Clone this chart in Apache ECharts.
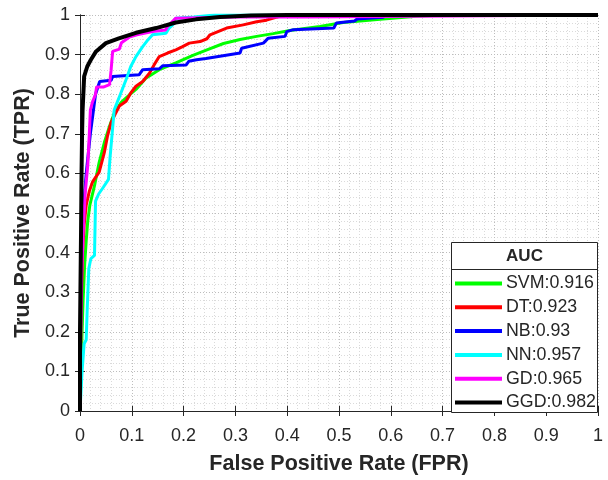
<!DOCTYPE html>
<html>
<head>
<meta charset="utf-8">
<script src="https://cdn.jsdelivr.net/npm/echarts@6/dist/echarts.min.js"></script>
<style>
  html, body { margin: 0; padding: 0; background: #fff; }
  #chart { width: 608px; height: 480px; }
</style>
</head>
<body>
<div id="chart"></div>
<script>
// ROC curves: [FPR, TPR] points for each classifier
const svm = [[0,0],[0.002,0.1],[0.004,0.2],[0.006,0.28],[0.009,0.37],[0.012,0.43],[0.015,0.48],[0.019,0.52],[0.028,0.569],[0.037,0.628],[0.047,0.678],[0.057,0.719],[0.067,0.755],[0.08,0.78],[0.095,0.798],[0.108,0.812],[0.127,0.84],[0.153,0.862],[0.185,0.879],[0.218,0.898],[0.245,0.912],[0.277,0.928],[0.309,0.938],[0.341,0.946],[0.373,0.953],[0.405,0.961],[0.463,0.971],[0.508,0.981],[0.585,0.99],[0.65,0.997],[0.7,1],[1,1]];
const dt = [[0,0],[0.002,0.25],[0.005,0.4],[0.008,0.47],[0.012,0.52],[0.018,0.555],[0.024,0.578],[0.03,0.59],[0.037,0.603],[0.047,0.653],[0.053,0.694],[0.06,0.728],[0.068,0.75],[0.076,0.77],[0.089,0.782],[0.098,0.803],[0.108,0.82],[0.121,0.832],[0.134,0.853],[0.143,0.874],[0.153,0.895],[0.169,0.904],[0.185,0.912],[0.198,0.92],[0.211,0.929],[0.232,0.933],[0.245,0.94],[0.251,0.95],[0.283,0.967],[0.315,0.975],[0.341,0.983],[0.36,0.987],[0.38,0.995],[0.4,1],[1,1]];
const nb = [[0,0],[0.002,0.35],[0.006,0.5],[0.012,0.6],[0.02,0.7],[0.026,0.76],[0.03,0.8],[0.038,0.832],[0.06,0.835],[0.063,0.845],[0.114,0.849],[0.121,0.862],[0.153,0.864],[0.16,0.872],[0.205,0.874],[0.21,0.883],[0.225,0.887],[0.243,0.89],[0.245,0.895],[0.309,0.904],[0.312,0.916],[0.354,0.929],[0.363,0.941],[0.396,0.946],[0.399,0.958],[0.412,0.963],[0.49,0.967],[0.495,0.98],[0.53,0.985],[0.535,0.99],[0.585,0.994],[0.59,1],[1,1]];
const nn = [[0,0],[0.004,0.1],[0.008,0.17],[0.012,0.18],[0.014,0.26],[0.017,0.36],[0.021,0.385],[0.028,0.393],[0.03,0.53],[0.036,0.548],[0.045,0.565],[0.055,0.585],[0.058,0.64],[0.062,0.7],[0.066,0.76],[0.072,0.78],[0.078,0.8],[0.089,0.837],[0.098,0.87],[0.108,0.895],[0.121,0.92],[0.131,0.937],[0.14,0.95],[0.166,0.954],[0.172,0.967],[0.179,0.975],[0.185,0.992],[0.22,0.995],[0.26,1],[1,1]];
const gd = [[0,0],[0.002,0.3],[0.006,0.45],[0.01,0.55],[0.015,0.62],[0.018,0.7],[0.02,0.76],[0.024,0.78],[0.03,0.8],[0.032,0.818],[0.045,0.818],[0.057,0.824],[0.06,0.86],[0.063,0.908],[0.076,0.914],[0.08,0.93],[0.095,0.944],[0.11,0.95],[0.14,0.958],[0.165,0.962],[0.169,0.971],[0.185,0.992],[0.3,0.995],[0.43,0.995],[0.43,1],[1,1]];
const ggd = [[0,0],[0,0.2],[0.002,0.45],[0.003,0.6],[0.004,0.7],[0.005,0.76],[0.008,0.845],[0.014,0.87],[0.021,0.887],[0.031,0.908],[0.05,0.929],[0.075,0.941],[0.108,0.955],[0.147,0.967],[0.185,0.981],[0.224,0.989],[0.27,0.995],[0.33,0.999],[0.4,1],[1,1]];

const seriesNames = ['SVM:0.916', 'DT:0.923', 'NB:0.93', 'NN:0.957', 'GD:0.965', 'GGD:0.982'];
const seriesData = [svm, dt, nb, nn, gd, ggd];
const seriesColors = ['#00ff00', '#ff0000', '#0000ff', '#00ffff', '#ff00ff', '#000000'];
const seriesWidths = [3, 3, 3, 3, 3, 4];

const FONT = '"Liberation Sans", Arial, sans-serif';
const INK = '#262626';

const chart = echarts.init(document.getElementById('chart'), null, { renderer: 'canvas' });

const tickFmt = v => String(+v.toFixed(1));

function valueAxis(extra) {
  return Object.assign({
    type: 'value', min: 0, max: 1, interval: 0.1,
    axisLine: { show: true, lineStyle: { color: INK, width: 1 } },
    axisTick: { show: true, inside: true, length: 5, lineStyle: { color: INK } },
    minorTick: { show: false },
    splitLine: { show: true, lineStyle: { color: '#bdbdbd', type: [1, 2], width: 1 } },
    minorSplitLine: { show: true, lineStyle: { color: '#dadada', type: [1, 2], width: 1 } },
    axisLabel: { show: true, color: INK, fontFamily: FONT, fontSize: 18, formatter: tickFmt }
  }, extra);
}

const option = {
  backgroundColor: '#fff',
  animation: false,
  grid: { left: 80, right: 10, top: 15, bottom: 67, containLabel: false },
  xAxis: [
    valueAxis({
      position: 'bottom',
      axisLabel: { show: true, color: INK, fontFamily: FONT, fontSize: 18, margin: 16, formatter: tickFmt },
      name: 'False Positive Rate (FPR)', nameLocation: 'middle', nameGap: 42,
      nameTextStyle: { color: INK, fontFamily: FONT, fontSize: 21.5, fontWeight: 'bold' }
    }),
    valueAxis({
      position: 'top', axisLabel: { show: false },
      splitLine: { show: false }, minorSplitLine: { show: false }
    })
  ],
  yAxis: [
    valueAxis({
      position: 'left',
      axisLabel: { show: true, color: INK, fontFamily: FONT, fontSize: 18, margin: 10, formatter: tickFmt },
      name: 'True Positive Rate (TPR)', nameLocation: 'middle', nameGap: 40, nameRotate: 90,
      nameTextStyle: { color: INK, fontFamily: FONT, fontSize: 21.5, fontWeight: 'bold' }
    }),
    valueAxis({
      position: 'right', axisLabel: { show: false },
      splitLine: { show: false }, minorSplitLine: { show: false }
    })
  ],
  legend: {
    orient: 'vertical',
    z: 20,
    left: 451, top: 273.5,
    padding: [0, 0, 0, 4],
    itemWidth: 47, itemHeight: 4, itemGap: 3.8,
    icon: 'rect',
    data: seriesNames,
    selectedMode: false,
    textStyle: { color: INK, fontFamily: FONT, fontSize: 17.8, lineHeight: 20, padding: [0, 0, 0, -1] }
  },
  graphic: [
    {
      type: 'rect', z: 10, silent: true,
      shape: { x: 451.5, y: 242.5, width: 146, height: 170 },
      style: { fill: '#fff', stroke: INK, lineWidth: 1 }
    },
    {
      type: 'line', z: 11, silent: true,
      shape: { x1: 451.5, y1: 269.5, x2: 597.5, y2: 269.5 },
      style: { stroke: INK, lineWidth: 1 }
    },
    {
      type: 'text', z: 11, silent: true,
      x: 524.5, y: 256.5,
      style: { text: 'AUC', fill: INK, font: 'bold 17px ' + FONT, align: 'center', verticalAlign: 'middle' }
    }
  ],
  series: seriesNames.map((name, i) => ({
    name,
    type: 'line',
    data: seriesData[i],
    showSymbol: false,
    symbol: 'none',
    lineStyle: { color: seriesColors[i], width: seriesWidths[i] },
    itemStyle: { color: seriesColors[i] },
    z: 2 + i,
    clip: true
  }))
};

chart.setOption(option);
</script>
</body>
</html>
